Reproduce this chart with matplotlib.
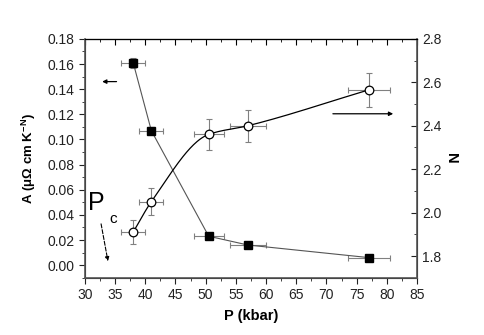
import numpy as np
import matplotlib
matplotlib.use('Agg')
import matplotlib.pyplot as plt
from matplotlib.ticker import MultipleLocator

plt.rcParams['font.family'] = ['Liberation Sans', 'DejaVu Sans']
plt.rcParams['mathtext.fontset'] = 'custom'
plt.rcParams['mathtext.rm'] = 'Liberation Sans'
plt.rcParams['mathtext.bf'] = 'Liberation Sans:bold'

# pressure points (kbar)
P = [38.0, 41.0, 50.5, 57.0, 77.0]
P_err = [2.0, 2.0, 2.5, 3.0, 3.5]

# A coefficient (left axis)
A = [0.161, 0.107, 0.023, 0.016, 0.006]
A_err = [0.004, 0.003, 0.0, 0.0, 0.0]

# exponent N (right axis)
N = [1.91, 2.05, 2.36, 2.40, 2.565]
N_err = [0.057, 0.062, 0.07, 0.073, 0.077]


def pchip(x, y, xs):
    # monotone cubic through the points, just for the smooth guide line
    x = np.asarray(x); y = np.asarray(y)
    h = np.diff(x); d = np.diff(y) / h
    m = np.zeros_like(y)
    for k in range(1, len(x) - 1):
        if d[k-1] * d[k] > 0:
            w1 = 2*h[k] + h[k-1]; w2 = h[k] + 2*h[k-1]
            m[k] = (w1 + w2) / (w1/d[k-1] + w2/d[k])
    m[0] = d[0]; m[-1] = d[-1]
    out = np.empty_like(xs)
    for i, xv in enumerate(xs):
        k = min(np.searchsorted(x, xv) - 1, len(x) - 2)
        k = max(k, 0)
        t = (xv - x[k]) / h[k]
        h00 = 2*t**3 - 3*t**2 + 1; h10 = t**3 - 2*t**2 + t
        h01 = -2*t**3 + 3*t**2; h11 = t**3 - t**2
        out[i] = h00*y[k] + h10*h[k]*m[k] + h01*y[k+1] + h11*h[k]*m[k+1]
    return out


fig = plt.figure(figsize=(4.85, 3.35), dpi=100)
ax = fig.add_axes([0.175, 0.171, 0.685, 0.713])
ax2 = ax.twinx()

ecol = '#808080'
ax.plot(P, A, '-', color='#555555', lw=0.8, zorder=2)
ax.errorbar(P, A, xerr=P_err, yerr=A_err, fmt='none', ecolor=ecol,
            elinewidth=0.8, capsize=2.5, capthick=0.8, zorder=1)
ax.plot(P, A, 's', color='black', ms=5.5, zorder=3)

xs = np.linspace(P[0], P[-1], 200)
ax2.plot(xs, pchip(P, N, xs), '-', color='black', lw=0.9, zorder=2)
ax2.errorbar(P, N, xerr=P_err, yerr=N_err, fmt='none', ecolor=ecol,
             elinewidth=0.8, capsize=2.5, capthick=0.8, zorder=1)
ax2.plot(P, N, 'o', mfc='white', mec='black', mew=0.9, ms=6.2, zorder=3)

ax.set_xlim(30, 85)
ax.set_ylim(-0.01, 0.18)
ax2.set_ylim(1.7, 2.8)

ax.xaxis.set_major_locator(MultipleLocator(5))
ax.xaxis.set_minor_locator(MultipleLocator(2.5))
ax.yaxis.set_major_locator(MultipleLocator(0.02))
ax.yaxis.set_minor_locator(MultipleLocator(0.01))
ax.yaxis.set_major_formatter(matplotlib.ticker.FormatStrFormatter('%.2f'))
ax2.yaxis.set_major_locator(MultipleLocator(0.2))
ax2.yaxis.set_minor_locator(MultipleLocator(0.1))
ax2.yaxis.set_major_formatter(matplotlib.ticker.FormatStrFormatter('%.1f'))

ax.tick_params(axis='x', which='both', direction='out', labelsize=10, colors='#222222')
ax.tick_params(axis='x', which='major', length=4)
ax.tick_params(axis='x', which='minor', length=2.5)
ax.tick_params(axis='y', which='both', direction='out', labelsize=10, colors='#222222')
ax.tick_params(axis='y', which='major', length=4)
ax.tick_params(axis='y', which='minor', length=2.5)
ax2.tick_params(axis='y', which='both', direction='in', labelsize=10, colors='#222222')
ax2.tick_params(axis='y', which='major', length=4)
ax2.tick_params(axis='y', which='minor', length=2.5)

# top ticks point inwards
secx = ax.secondary_xaxis('top')
secx.xaxis.set_major_locator(MultipleLocator(5))
secx.xaxis.set_minor_locator(MultipleLocator(2.5))
secx.tick_params(which='both', direction='in', labeltop=False)
secx.tick_params(which='major', length=4)
secx.tick_params(which='minor', length=2.5)

for s in ['left', 'right', 'bottom']:
    ax2.spines[s].set_color('#555555')
    ax2.spines[s].set_linewidth(1.2)
ax2.spines['top'].set_color('black')

ax.set_xlabel('P (kbar)', fontsize=10.5, fontweight='bold', labelpad=5)
ax.set_ylabel(r'A ($\mathbf{\mu\Omega}$ cm K$^{\mathbf{-N}}$)', fontsize=9.5,
              fontweight='bold', labelpad=7)
ax2.set_ylabel('N', fontsize=10.5, fontweight='bold', rotation=270, labelpad=12)

# arrows telling which axis goes with which set
ax.annotate('', xy=(32.4, 0.146), xytext=(35.7, 0.146),
            arrowprops=dict(arrowstyle='-|>', color='black', lw=0.9, mutation_scale=6))
ax2.annotate('', xy=(81.5, 2.455), xytext=(70.6, 2.455),
             arrowprops=dict(arrowstyle='-|>', color='black', lw=0.9, mutation_scale=6))

ax.text(30.6, 0.0495, 'P', fontsize=18, ha='left', va='center')
ax.text(34.0, 0.037, 'c', fontsize=11, ha='left', va='center')
ax.annotate('', xy=(33.9, 0.001), xytext=(32.6, 0.035),
            arrowprops=dict(arrowstyle='-|>', color='black', lw=0.8, ls='--',
                            mutation_scale=6))

fig.savefig('out.png', dpi=100)
